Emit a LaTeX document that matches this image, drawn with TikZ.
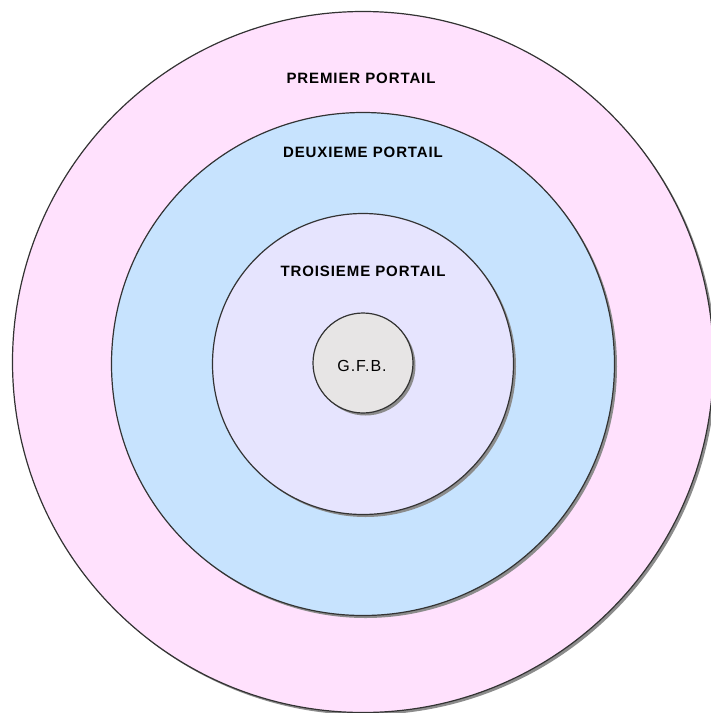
\documentclass[tikz,border=0pt]{standalone}
\usepackage{fontspec}
\usepackage{xcolor}
\usetikzlibrary{shadows}

\newfontfamily\portalfont[LetterSpace=6]{Liberation Sans}

\definecolor{portalpink}{HTML}{FFE1FD}
\definecolor{portalblue}{HTML}{C7E3FE}
\definecolor{portallilac}{HTML}{E6E4FE}
\definecolor{portalgray}{HTML}{E7E5E5}
\definecolor{portalline}{HTML}{333333}

\tikzset{
  ring/.style={circle, draw=portalline, line width=1.2pt, inner sep=0pt,
    drop shadow={shadow xshift=2.5pt, shadow yshift=-2.5pt, fill=black!45, opacity=1}},
  ringlabel/.style={font=\portalfont\fontsize{15}{17}\selectfont\bfseries, text=black}
}

\begin{document}
\begin{tikzpicture}[x=1pt, y=-1pt]
  \useasboundingbox (0,0) rectangle (711,713);
  \fill[white] (0,0) rectangle (711,713);

  % Nested portals, outer to inner
  \node[ring, fill=portalpink,  minimum size=701pt] (premier)   at (363,362) {};
  \node[ring, fill=portalblue,  minimum size=503pt] (deuxieme)  at (363,364) {};
  \node[ring, fill=portallilac, minimum size=301pt] (troisieme) at (363,364) {};
  \node[ring, fill=portalgray,  minimum size=100pt] (gfb)       at (363,363) {};

  % Labels
  \node[ringlabel] (premierlabel)   at (361,78)  {PREMIER PORTAIL};
  \node[ringlabel] (deuxiemelabel)  at (363,152) {DEUXIEME PORTAIL};
  \node[ringlabel] (troisiemelabel) at (363,271) {TROISIEME PORTAIL};
  \node[font=\portalfont\fontsize{16}{18}\selectfont, text=black] (gfblabel) at (362,366) {G.F.B.};
\end{tikzpicture}
\end{document}
